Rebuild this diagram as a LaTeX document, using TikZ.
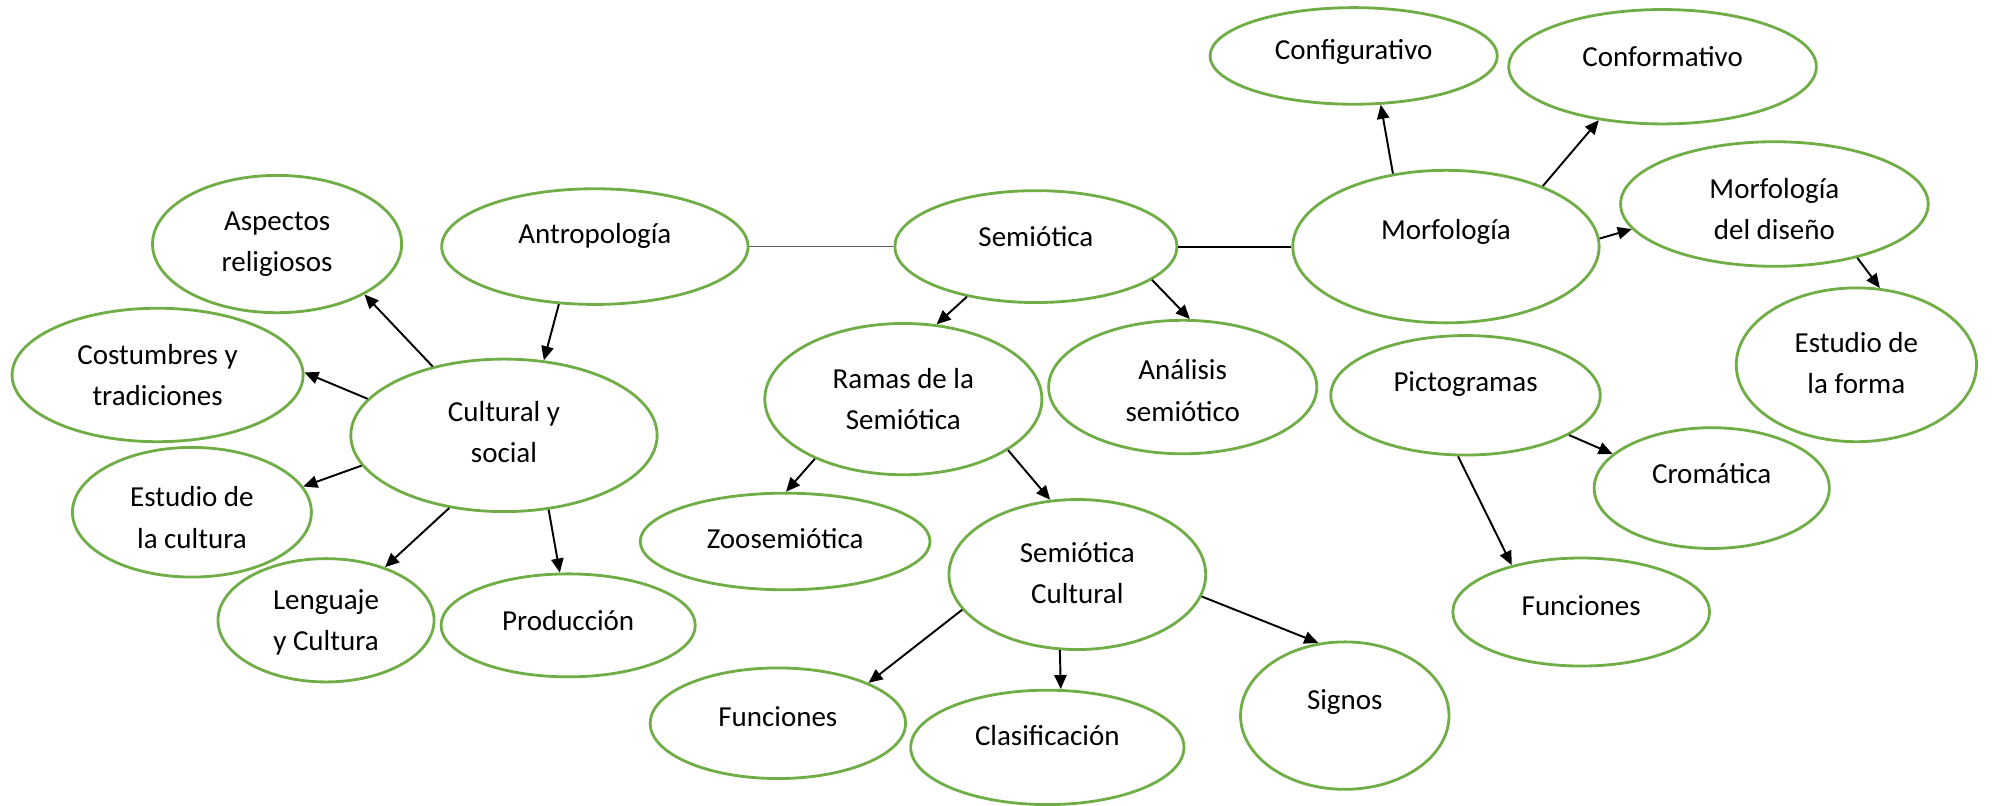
\documentclass[tikz,border=0pt]{standalone}
\usepackage{fontspec}
\setmainfont{Carlito}
\usetikzlibrary{shapes.geometric,arrows.meta}
\definecolor{ovgreen}{RGB}{112,173,71}
\definecolor{linegray}{RGB}{90,90,90}
\tikzset{
  oval/.style 2 args={ellipse, draw=ovgreen, line width=1.6pt, inner sep=0pt,
    minimum width=#1*0.02542cm, minimum height=#2*0.02542cm},
  lbl/.style={align=center, font=\fontsize{16.5}{23.5}\selectfont},
  arr/.style={-{Triangle[length=8pt,width=7pt]}, line width=1.1pt},
}
\begin{document}
\begin{tikzpicture}[x=0.02542cm, y=-0.02542cm]
    \useasboundingbox (0,0) rectangle (1568,634);
    % left part
    \node[oval={196}{108}, label={[lbl]center:Aspectos\\religiosos}] (asp) at (218,192) {};
    \node[oval={241}{91}, label={[lbl, yshift=6pt]center:Antropología}] (ant) at (468,194) {};
    \node[oval={229}{105}, label={[lbl]center:Costumbres y\\tradiciones}] (cost) at (124,295) {};
    \node[oval={241}{120}, label={[lbl, yshift=2pt]center:Cultural y\\social}] (cult) at (396.5,342.5) {};
    \node[oval={188}{102}, label={[lbl, yshift=-3pt]center:Estudio de\\la cultura}] (estc) at (151,403) {};
    \node[oval={170}{97}, label={[lbl, yshift=-1pt]center:Lenguaje\\y Cultura}] (leng) at (256.5,488) {};
    \node[oval={200}{81}, label={[lbl, yshift=3pt]center:Producción}] (prod) at (447,492) {};
    % middle part
    \node[oval={222}{88}, label={[lbl, yshift=5.5pt]center:Semiótica}] (sem) at (815,194) {};
    \node[oval={218}{119}, label={[lbl]center:Ramas de la\\Semiótica}] (ramas) at (710.7,314) {};
    \node[oval={211}{105}, label={[lbl, yshift=-2pt]center:Análisis\\semiótico}] (anal) at (930.5,304.5) {};
    \node[oval={228}{76}, label={[lbl, yshift=1.5pt]center:Zoosemiótica}] (zoo) at (617.7,426) {};
    \node[oval={202}{118}, label={[lbl, yshift=1pt]center:Semiótica\\Cultural}] (semc) at (847.6,452) {};
    \node[oval={201}{87}, label={[lbl, yshift=4pt]center:Funciones}] (funcL) at (612,569) {};
    \node[oval={215}{90}, label={[lbl, yshift=6.5pt]center:Clasificación}] (clas) at (824,588) {};
    \node[oval={164}{116}, label={[lbl, yshift=8pt]center:Signos}] (signos) at (1058,563) {};
    % right part
    \node[oval={226}{76}, label={[lbl, yshift=2pt]center:Configurativo}] (config) at (1065,44) {};
    \node[oval={242}{90}, label={[lbl, yshift=5.5pt]center:Conformativo}] (conform) at (1308,52.5) {};
    \node[oval={241}{120}, label={[lbl, yshift=8.5pt]center:Morfología}] (morf) at (1137.6,194) {};
    \node[oval={242}{98}, label={[lbl, yshift=-3pt]center:Morfología\\del diseño}] (morfd) at (1396,160.5) {};
    \node[oval={189}{121}, label={[lbl, yshift=1pt]center:Estudio de\\la forma}] (estf) at (1460.5,287) {};
    \node[oval={212}{94}, label={[lbl, yshift=6.5pt]center:Pictogramas}] (picto) at (1153,311) {};
    \node[oval={185}{95}, label={[lbl, yshift=8pt]center:Cromática}] (crom) at (1346.7,384) {};
    \node[oval={202}{85}, label={[lbl, yshift=3.5pt]center:Funciones}] (funcR) at (1244,481.5) {};

    % connectors
    \draw[linegray, line width=0.8pt] (ant.east) -- (sem.west);
    \draw[line width=1.2pt] (sem.east) -- (morf.west);
    \draw[arr] (ant.238.5) -- (cult.62);
    \draw[arr] (cult.136) -- (asp.-30);
    \draw[arr] (cult.165) -- (cost.1);
    \draw[arr] (cult.192.5) -- (estc.13.5);
    \draw[arr] (cult.233.5) -- (leng.42);
    \draw[arr] (cult.-59.5) -- (prod.99);
    \draw[arr] (sem.216) -- (ramas.66);
    \draw[arr] (sem.-16) -- (anal.84.5);
    \draw[arr] (ramas.214) -- (zoo.89.5);
    \draw[arr] (ramas.-26.5) -- (semc.110);
    \draw[arr] (semc.197) -- (funcL.24);
    \draw[arr] (semc.257.5) -- (clas.77.5);
    \draw[arr] (semc.-10.5) -- (signos.110);
    \draw[arr] (morf.126) -- (config.-61);
    \draw[arr] (morf.32) -- (conform.220);
    \draw[arr] (morf.3) -- (morfd.190);
    \draw[arr] (morfd.-33.5) -- (estf.73);
    \draw[arr] (picto.-21) -- (crom.161.5);
    \draw[arr] (picto.263) -- (funcR.146);
\end{tikzpicture}
\end{document}
